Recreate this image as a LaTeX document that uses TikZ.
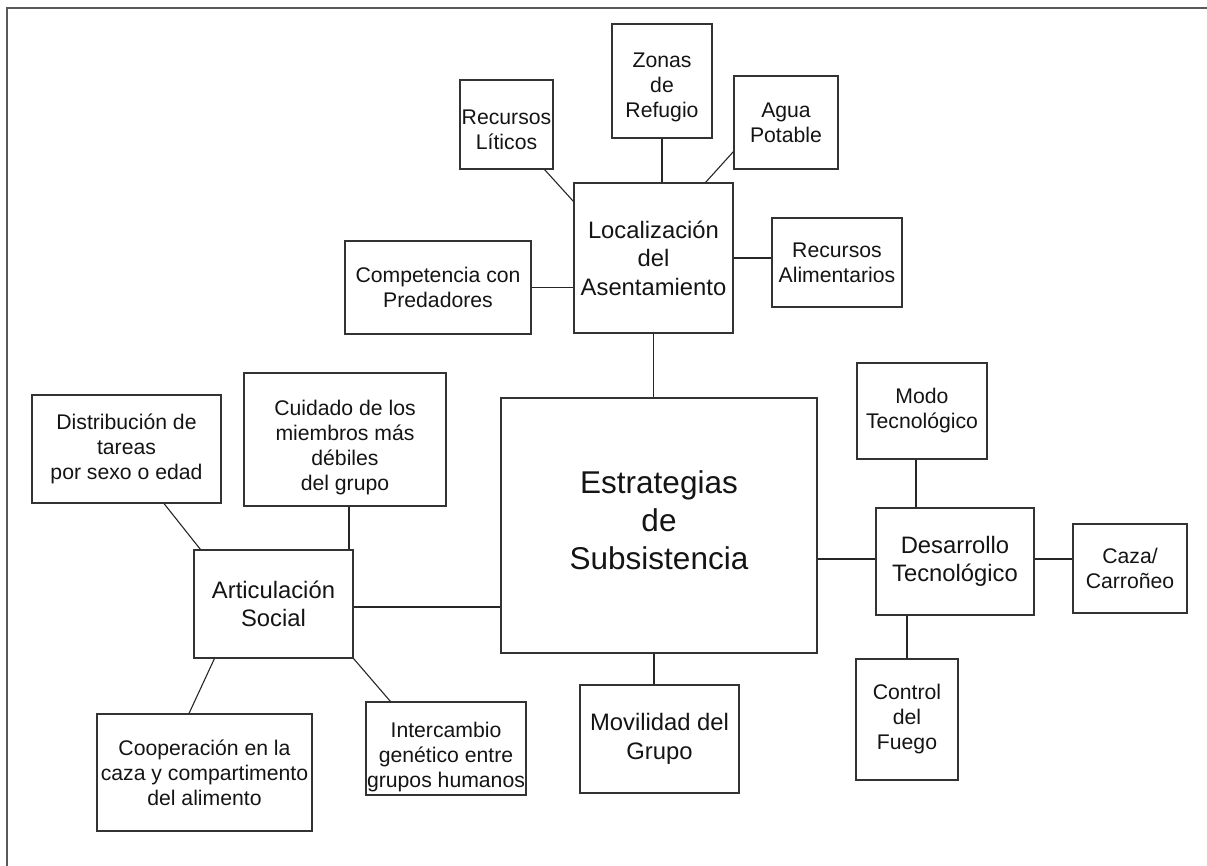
\documentclass[tikz,border=0pt]{standalone}
\usepackage{fontspec}
\setmainfont{Liberation Sans}
\usetikzlibrary{calc}
\tikzset{
  box/.style={draw=black!80, line width=1.1pt, inner sep=0pt, align=center, text=black!92},
  sm/.style={font=\fontsize{21.2}{25}\selectfont},
  md/.style={font=\fontsize{23.8}{28.5}\selectfont},
  lg/.style={font=\fontsize{31.5}{38}\selectfont},
  txt/.style={align=center, text=black!92, inner sep=0pt},
  conn/.style={draw=black!85, line width=1.1pt},
}
\begin{document}
\begin{tikzpicture}[x=1pt,y=-1pt]
\useasboundingbox (0,0) rectangle (1207,865);
\draw[draw=black!65, line width=2pt] (7,866) -- (7,7.5) -- (1208,7.5);
% nodes
\node[box,minimum width=93,minimum height=89,
  label={[txt,sm,yshift=-5]center:{Recursos\\Líticos}}] (lit) at (506.5,124.5) {};
\node[box,minimum width=100,minimum height=114,
  label={[txt,sm,yshift=-6]center:{Zonas\\de\\Refugio}}] (zon) at (662,81) {};
\node[box,sm,minimum width=104,minimum height=93] (agu) at (786,122.5) {Agua\\Potable};
\node[box,md,minimum width=159,minimum height=150] (loc) at (653.5,258) {Localización\\del\\Asentamiento};
\node[box,sm,minimum width=130,minimum height=89] (ral) at (837,262.5) {Recursos\\Alimentarios};
\node[box,sm,minimum width=186,minimum height=93] (com) at (438,287.5) {Competencia con\\Predadores};
\node[box,minimum width=316,minimum height=255,
  label={[txt,lg,yshift=5]center:{Estrategias\\de\\Subsistencia}}] (est) at (659,525.5) {};
\node[box,md,minimum width=159,minimum height=108] (mov) at (659.5,739) {Movilidad del\\Grupo};
\node[box,sm,minimum width=130,minimum height=96] (modo) at (922,411) {Modo\\Tecnológico};
\node[box,md,minimum width=158,minimum height=107] (des) at (955,561.5) {Desarrollo\\Tecnológico};
\node[box,sm,minimum width=114,minimum height=89] (caz) at (1130,568.5) {Caza/\\Carroñeo};
\node[box,sm,minimum width=102,minimum height=121] (ctl) at (907,719.5) {Control\\del\\Fuego};
\node[box,sm,minimum width=189,minimum height=108] (dis) at (126.5,449) {Distribución de\\tareas\\por sexo o edad};
\node[box,minimum width=202,minimum height=133,
  label={[txt,sm,yshift=-8]center:{Cuidado de los\\miembros más\\débiles\\del grupo}}] (cui) at (345,439.5) {};
\node[box,md,minimum width=159,minimum height=108] (art) at (273.5,604) {Articulación\\Social};
\node[box,sm,minimum width=215,minimum height=117] (coo) at (204.5,772.5) {Cooperación en la\\caza y compartimento\\del alimento};
\node[box,minimum width=160,minimum height=93,
  label={[txt,sm,yshift=-9]center:{Intercambio\\genético entre\\grupos humanos}}] (int) at (446,748.5) {};
% connectors
\draw[conn] ($(lit.south east)+(-9,0)$) -- ($(loc.north west)+(0,19)$);
\draw[conn] (zon.south) -- (zon.south |- loc.north);
\draw[conn] ($(agu.south west)+(0,-18)$) -- ($(loc.north east)+(-28,0)$);
\draw[conn] (com.east) -- (com.east -| loc.west);
\draw[conn] (loc.east) -- (loc.east -| ral.west);
\draw[conn] (loc.south) -- (loc.south |- est.north);
\coordinate (m1) at ($(mov.north)+(-5.5,0)$);
\draw[conn] (m1) -- (m1 |- est.south);
\coordinate (a1) at ($(art.east)+(0,3)$);
\draw[conn] (a1) -- (a1 -| est.west);
\coordinate (d1) at ($(des.west)+(0,-2.5)$);
\draw[conn] (d1) -- (d1 -| est.east);
\coordinate (d2) at ($(modo.south)+(-6,0)$);
\draw[conn] (d2) -- (d2 |- des.north);
\coordinate (d3) at ($(des.east)+(0,-2.5)$);
\draw[conn] (d3) -- (d3 -| caz.west);
\draw[conn] (ctl.north) -- (ctl.north |- des.south);
\coordinate (c1) at ($(cui.south)+(4,0)$);
\draw[conn] (c1) -- (c1 |- art.north);
\draw[conn] ($(dis.south)+(37.5,0)$) -- ($(art.north west)+(7,0)$);
\draw[conn] ($(art.south west)+(21,0)$) -- ($(coo.north)+(-15.5,0)$);
\draw[conn] (art.south east) -- ($(int.north west)+(25,0)$);
\end{tikzpicture}
\end{document}
